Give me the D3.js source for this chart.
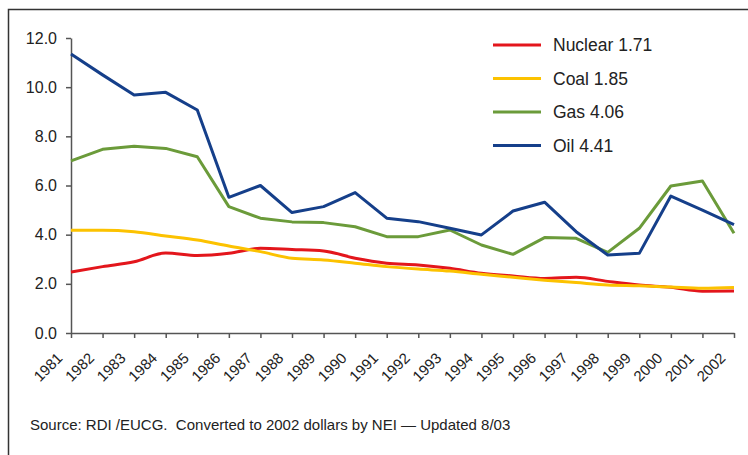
<!DOCTYPE html>
<html>
<head>
<meta charset="utf-8">
<script src="https://cdn.jsdelivr.net/npm/d3@7"></script>
<style>
  body { margin: 0; background: #fff; }
  svg text { font-family: Arial, "Liberation Sans", sans-serif; fill: #222; }
</style>
</head>
<body>
<script>
const years = d3.range(1981, 2003).map(String);
const yTicks = [0, 2, 4, 6, 8, 10, 12];

const nuclear = [2.48, 2.70, 2.90, 3.25, 3.15, 3.24, 3.45, 3.40, 3.34, 3.04, 2.84, 2.77, 2.63, 2.43, 2.32, 2.22, 2.27, 2.10, 1.95, 1.86, 1.70, 1.71];
const coal = [4.18, 4.18, 4.12, 3.95, 3.78, 3.54, 3.31, 3.04, 2.97, 2.84, 2.70, 2.60, 2.52, 2.39, 2.27, 2.15, 2.05, 1.95, 1.92, 1.87, 1.82, 1.85];
const gas = [7.00, 7.47, 7.60, 7.51, 7.17, 5.14, 4.67, 4.52, 4.49, 4.32, 3.92, 3.92, 4.19, 3.58, 3.20, 3.88, 3.85, 3.28, 4.26, 5.98, 6.18, 4.06];
const oil = [11.35, 10.50, 9.68, 9.79, 9.07, 5.52, 6.00, 4.90, 5.14, 5.71, 4.67, 4.53, 4.26, 3.99, 4.96, 5.32, 4.12, 3.17, 3.24, 5.57, 5.00, 4.41];

const seriesNames = ["Nuclear 1.71", "Coal 1.85", "Gas 4.06", "Oil 4.41"];
const colors = ["#e3161c", "#fcc200", "#6b9b3a", "#153f8a"];
const smooth = [true, true, false, false];
const allSeries = [nuclear, coal, gas, oil];

let width = 748, height = 455;
let margin = {top: 38, right: 14, bottom: 122, left: 71};

const svg = d3.select("body")
  .append("svg")
  .attr("width", width)
  .attr("height", height);

// frame (top and left edges only are visible)
svg.append("path")
  .attr("d", "M8.5," + height + "V9.5H" + width)
  .attr("fill", "none")
  .attr("stroke", "#333")
  .attr("stroke-width", 1.5);

let x = d3.scalePoint()
  .domain(years)
  .range([margin.left, width - margin.right]);

let y = d3.scaleLinear()
  .domain([0, 12])
  .range([height - margin.bottom, margin.top]);

// y axis
const yAxis = svg.append("g")
  .attr("transform", "translate(" + margin.left + ",0)")
  .call(d3.axisLeft(y).tickValues(yTicks).tickFormat(d3.format(".1f")).tickSize(5).tickSizeOuter(0));
yAxis.selectAll("text")
  .attr("x", -14)
  .style("font-size", "16px");

// x axis
const xAxis = svg.append("g")
  .attr("transform", "translate(0," + y(0) + ")")
  .call(d3.axisBottom(x).tickSize(5).tickSizeOuter(0));
xAxis.selectAll("text")
  .style("font-size", "15px")
  .attr("text-anchor", "end")
  .attr("x", 0)
  .attr("y", 0)
  .attr("dy", 0)
  .attr("transform", "translate(-8,26) rotate(-45)");

svg.selectAll(".domain, .tick line")
  .attr("stroke", "#555")
  .attr("stroke-width", 1.5);

// lines
allSeries.forEach((s, k) => {
  svg.append("path")
    .datum(s)
    .attr("fill", "none")
    .attr("stroke", colors[k])
    .attr("stroke-width", 3)
    .attr("stroke-linejoin", "round")
    .attr("d", d3.line()
      .x((d, i) => x(years[i]))
      .y(d => y(d))
      .curve(smooth[k] ? d3.curveMonotoneX : d3.curveLinear)
    );
});

// legend
const legend = svg.append("g")
  .attr("transform", "translate(493,45)");

seriesNames.forEach((name, k) => {
  const row = legend.append("g")
    .attr("transform", "translate(0," + (k * 33.5) + ")");
  row.append("line")
    .attr("x1", 0)
    .attr("x2", 48)
    .attr("stroke", colors[k])
    .attr("stroke-width", 3);
  row.append("text")
    .attr("x", 60)
    .attr("dy", "0.35em")
    .style("font-size", "17.5px")
    .text(name);
});

svg.append("text")
  .attr("x", 30)
  .attr("y", 430)
  .style("font-size", "15px")
  .style("white-space", "pre")
  .text("Source: RDI /EUCG.  Converted to 2002 dollars by NEI \u2014 Updated 8/03");
</script>
</body>
</html>
